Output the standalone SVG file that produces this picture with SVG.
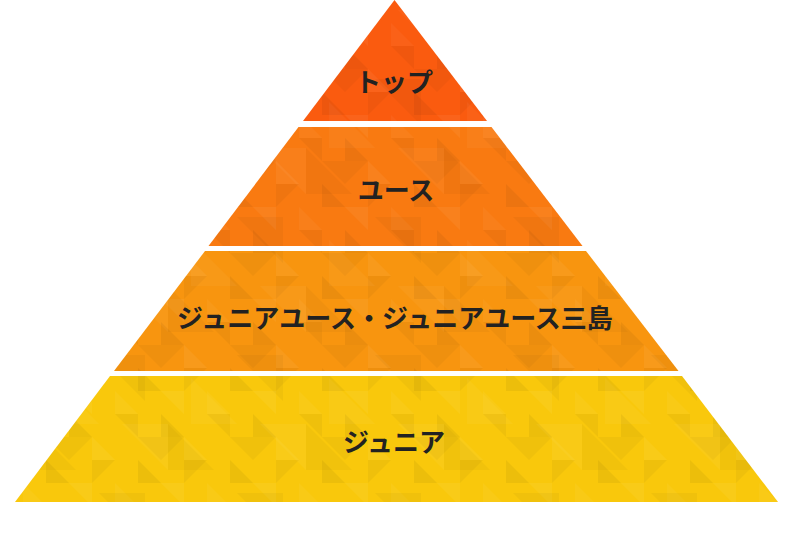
<svg xmlns="http://www.w3.org/2000/svg" width="790" height="536" viewBox="0 0 790 536">
<style>
.lbl{font-family:"Noto Sans CJK JP","Noto Sans",sans-serif;font-weight:700;font-size:26px;fill:#222;text-anchor:middle;dominant-baseline:central}
</style>
<defs>
<pattern id="tex" width="92" height="92" patternUnits="userSpaceOnUse">
<polygon points="0,0 23,0 0,23" fill="#000" opacity="0.04"/>
<polygon points="46,0 69,23 46,23" fill="#000" opacity="0.05"/>
<polygon points="69,23 92,23 92,46" fill="#fff" opacity="0.05"/>
<polygon points="23,46 46,46 46,69" fill="#000" opacity="0.04"/>
<polygon points="0,69 23,92 0,92" fill="#fff" opacity="0.05"/>
<polygon points="46,69 92,69 69,92" fill="#000" opacity="0.035"/>
<polygon points="23,23 46,46 23,46" fill="#fff" opacity="0.04"/>
<polygon points="69,46 69,69 92,69" fill="#000" opacity="0.05"/>
</pattern>
<pattern id="tex2" width="138" height="138" patternUnits="userSpaceOnUse" patternTransform="translate(30,10)">
<polygon points="0,0 46,46 0,46" fill="#000" opacity="0.03"/>
<polygon points="69,69 115,69 115,115" fill="#000" opacity="0.035"/>
<polygon points="92,0 138,0 138,46" fill="#fff" opacity="0.04"/>
<polygon points="23,92 69,138 23,138" fill="#fff" opacity="0.035"/>
</pattern>
</defs>
<g id="tier-top">
<polygon points="394.5,0 487,121 303,121" fill="#fa5b0f"/>
<polygon points="394.5,0 487,121 303,121" fill="url(#tex)"/>
<polygon points="394.5,0 487,121 303,121" fill="url(#tex2)"/>
<text class="lbl" x="394" y="80">トップ</text>
</g>
<g id="tier-youth">
<polygon points="298.5,127 491.5,127 582.5,246 208.5,246" fill="#f97a11"/>
<polygon points="298.5,127 491.5,127 582.5,246 208.5,246" fill="url(#tex)"/>
<polygon points="298.5,127 491.5,127 582.5,246 208.5,246" fill="url(#tex2)"/>
<text class="lbl" x="396" y="188">ユース</text>
</g>
<g id="tier-junior-youth">
<polygon points="205,251 586,251 678.5,371 114,371" fill="#f8950f"/>
<polygon points="205,251 586,251 678.5,371 114,371" fill="url(#tex)"/>
<polygon points="205,251 586,251 678.5,371 114,371" fill="url(#tex2)"/>
<text class="lbl" x="395" y="316">ジュニアユース・ジュニアユース三島</text>
</g>
<g id="tier-junior">
<polygon points="110,376 682,376 778,502 15,502" fill="#f9c80c"/>
<polygon points="110,376 682,376 778,502 15,502" fill="url(#tex)"/>
<polygon points="110,376 682,376 778,502 15,502" fill="url(#tex2)"/>
<text class="lbl" x="394" y="440">ジュニア</text>
</g>
<g id="connectors"/>
</svg>
